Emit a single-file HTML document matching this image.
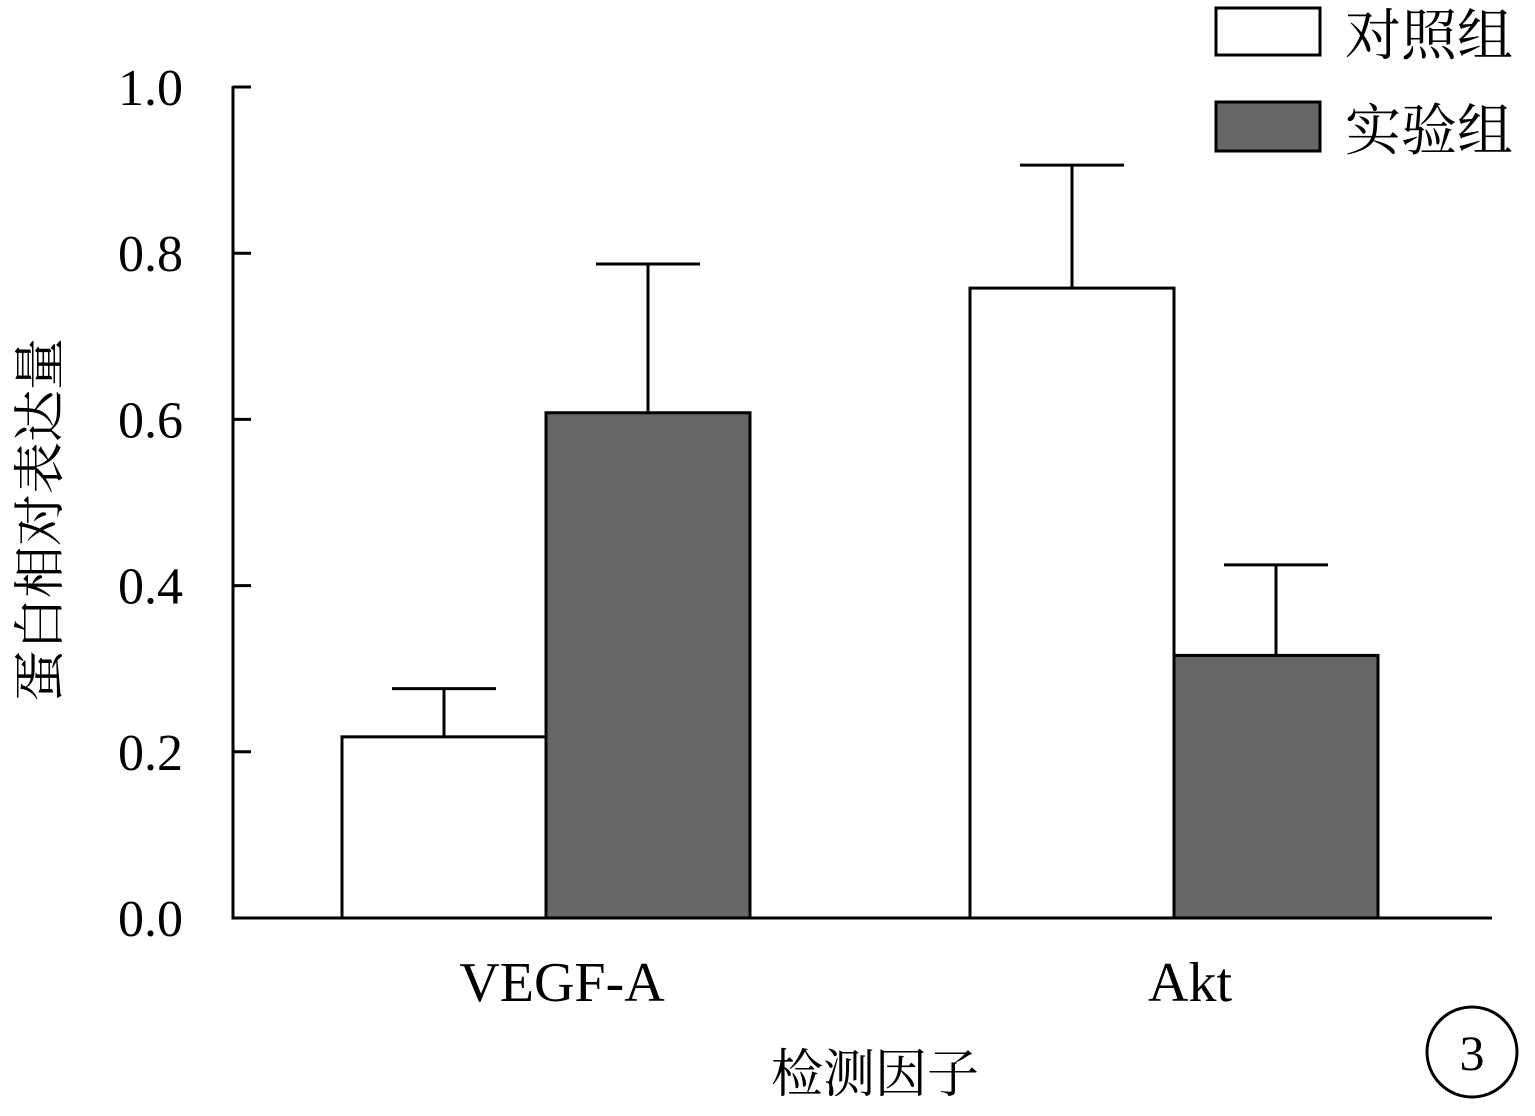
<!DOCTYPE html>
<html><head><meta charset="utf-8"><style>
html,body{margin:0;padding:0;background:#fff;}
svg text{font-family:"Liberation Serif","Noto Serif CJK SC","Noto Sans CJK SC",serif;fill:#000;}
</style></head><body>
<svg id="chart" width="1535" height="1111" viewBox="0 0 1535 1111" xmlns="http://www.w3.org/2000/svg">
<g id="plot"></g>
<text x="0" y="0" font-size="52" text-anchor="middle" transform="translate(58,520) rotate(-90)">蛋白相对表达量</text>
<text x="875" y="1092" font-size="52" text-anchor="middle">检测因子</text>
<g>
<rect x="1216" y="8" width="104" height="47" fill="#fff" stroke="#000" stroke-width="3"/>
<text x="1345" y="55" font-size="56">对照组</text>
<rect x="1216" y="102" width="104" height="49" fill="#666" stroke="#000" stroke-width="3"/>
<text x="1345" y="150" font-size="56">实验组</text>
</g>
<circle cx="1472" cy="1052" r="45" fill="none" stroke="#000" stroke-width="3"/>
<text x="1472" y="1070" font-size="50" text-anchor="middle">3</text>
</svg>
<script>
const categories = ["VEGF-A", "Akt"];
const controlValues = [0.218, 0.758];
const controlErrors = [0.058, 0.148];
const experimentValues = [0.608, 0.316];
const experimentErrors = [0.179, 0.109];
const yTicks = [0, 0.2, 0.4, 0.6, 0.8, 1.0];
const yTickLabels = ["0.0", "0.2", "0.4", "0.6", "0.8", "1.0"];

const NS = "http://www.w3.org/2000/svg";
const g = document.getElementById("plot");
const x0 = 233, x1 = 1492, yBase = 918, yTop = 87;
const y = v => yBase - v * (yBase - yTop);
const groupCenters = [546, 1174];
const barW = 204;
function mk(tag, attrs, parent) {
  const e = document.createElementNS(NS, tag);
  for (const k in attrs) e.setAttribute(k, attrs[k]);
  (parent || g).appendChild(e);
  return e;
}
// axes
let ax = mk("line", {x1: x0, y1: yTop - 1, x2: x0, y2: yBase + 1.5, stroke: "#000", "stroke-width": 3});


yTicks.forEach((t, i) => {
  const tk = mk("line", {x1: x0, x2: x0 + 18, y1: y(t), y2: y(t), stroke: "#000", "stroke-width": 3});
  
  
  const lb = mk("text", {x: 183, y: y(t) + 18, "font-size": 52, "text-anchor": "end"});
  lb.textContent = yTickLabels[i];
  
  
});
function bar(cx, v, err, fill, name) {
  const ex = mk("line", {x1: cx, x2: cx, y1: y(v), y2: y(v + err), stroke: "#000", "stroke-width": 3});
  
  
  const cap = mk("line", {x1: cx - 52, x2: cx + 52, y1: y(v + err), y2: y(v + err), stroke: "#000", "stroke-width": 3});
  
  
  const r = mk("rect", {x: cx - barW / 2, y: y(v), width: barW, height: yBase - y(v), fill: fill, stroke: "#000", "stroke-width": 3});
  
  
}
categories.forEach((c, i) => {
  const gc = groupCenters[i];
  bar(gc - barW / 2, controlValues[i], controlErrors[i], "#fff", "bar-control-" + c.toLowerCase());
  bar(gc + barW / 2, experimentValues[i], experimentErrors[i], "#666", "bar-experiment-" + c.toLowerCase());
  const lb = mk("text", {x: gc + 16, y: 1001, "font-size": 56, "text-anchor": "middle"});
  lb.textContent = c;
  
  
});
let xa = mk("line", {x1: x0 - 1.5, y1: yBase, x2: x1, y2: yBase, stroke: "#000", "stroke-width": 3});


</script>
</body></html>
